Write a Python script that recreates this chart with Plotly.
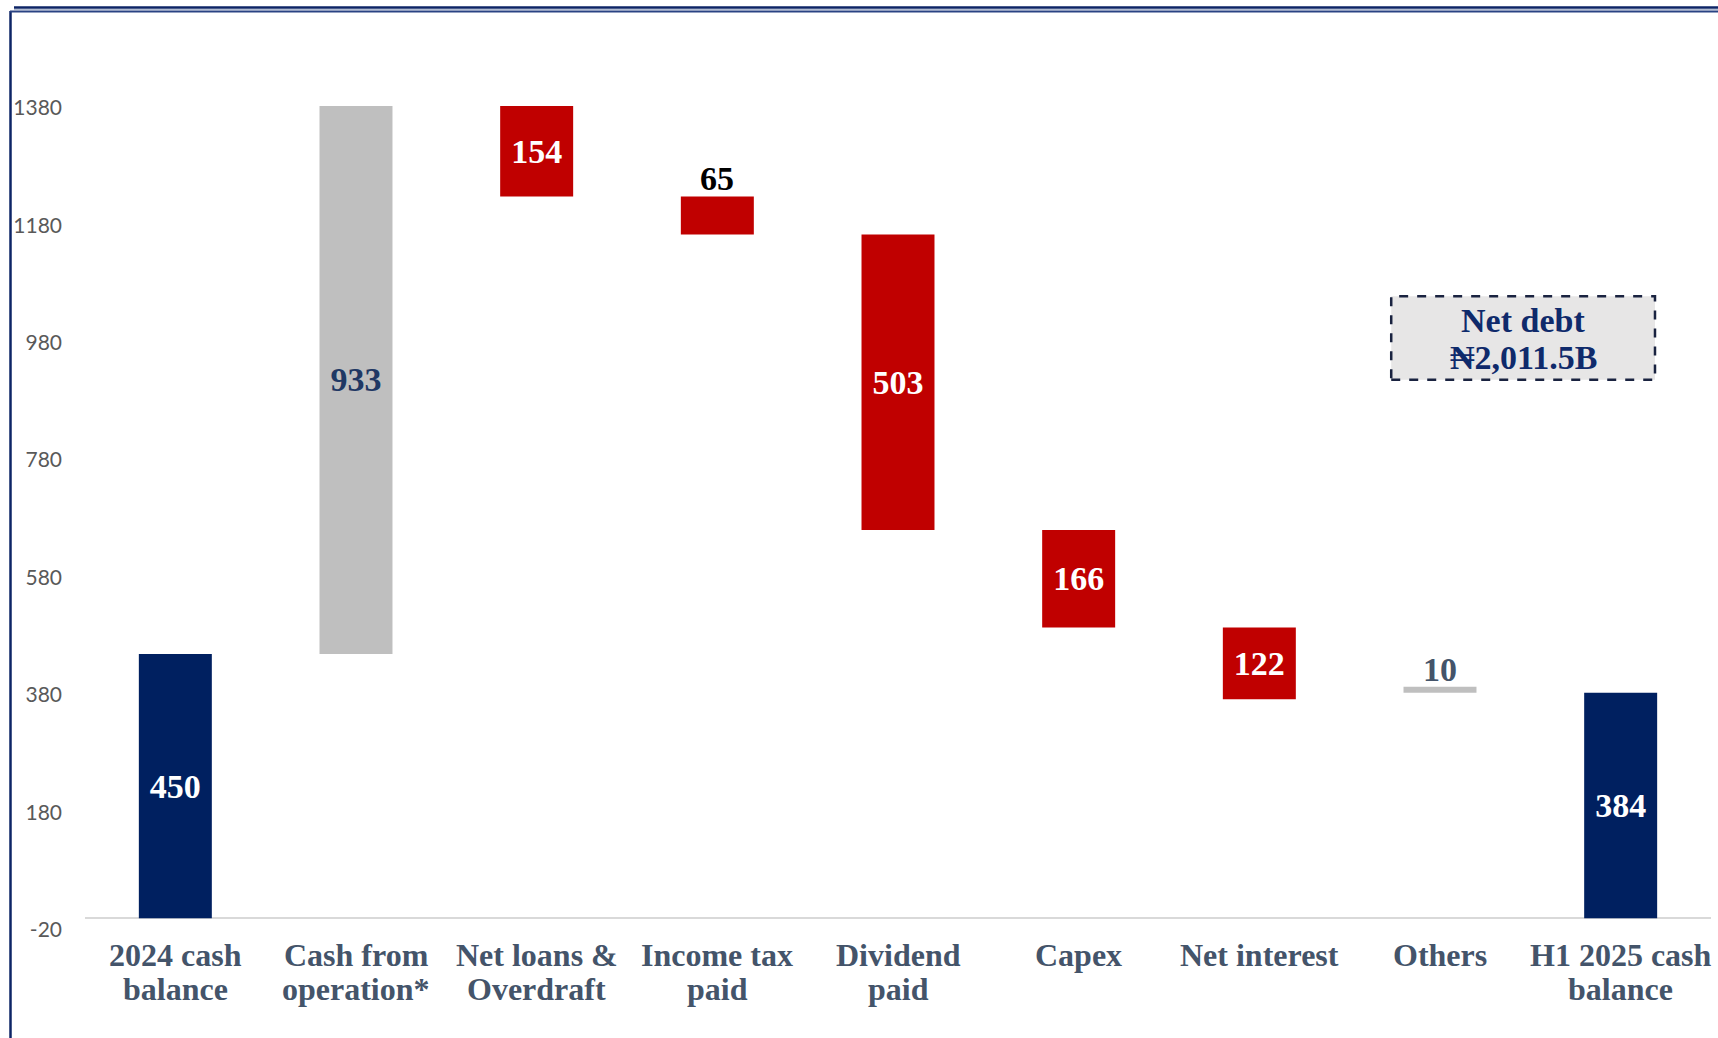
import plotly.graph_objects as go

# Cash bridge: 2024 closing cash to H1 2025 closing cash (₦ billions)
categories = [
    "2024 cash<br>balance",
    "Cash from<br>operation*",
    "Net loans &<br>Overdraft",
    "Income tax<br>paid",
    "Dividend<br>paid",
    "Capex",
    "Net interest",
    "Others",
    "H1 2025 cash<br>balance",
]
amounts = [450, 933, -154, -65, -503, -166, -122, 10, 384]
kinds = ["total", "flow", "flow", "flow", "flow", "flow", "flow", "flow", "total"]
value_labels = ["450", "933", "154", "65", "503", "166", "122", "10", "384"]
y_ticks = [-20, 180, 380, 580, 780, 980, 1180, 1380]
net_debt_lines = ["Net debt", "₦2,011.5B"]

NAVY = "#002060"
GREY = "#BFBFBF"
RED = "#C00000"
LABEL = "#44546A"

bar_colors = [NAVY, GREY, RED, RED, RED, RED, RED, GREY, NAVY]
text_colors = ["white", "#1F3864", "white", "black", "white", "white", "white", LABEL, "white"]
label_outside = [False, False, False, True, False, False, False, True, False]

# floating bar bases from the running balance
bases, heights = [], []
running = 0
for amt, kind in zip(amounts, kinds):
    if kind == "total":
        bases.append(0)
        heights.append(amt)
        running = amt
    else:
        bases.append(running if amt >= 0 else running + amt)
        heights.append(abs(amt))
        running += amt
# the small reconciling item is shown resting on the closing balance
bases[7] = amounts[-1]

W, H = 1718, 1038
ML, MR, MT, MB = 85, 7, 49, 108
PW, PH = W - ML - MR, H - MT - MB


def px_x(p):
    return (p - ML) / PW


def px_y(p):
    return (H - MB - p) / PH


x_pos = list(range(len(categories)))
value_font = dict(family="Liberation Serif", size=34, weight="bold")

fig = go.Figure()
fig.add_trace(go.Bar(
    x=x_pos,
    y=heights,
    base=bases,
    width=0.404,
    marker=dict(color=bar_colors, line=dict(width=0)),
    text=["" if out else lab for lab, out in zip(value_labels, label_outside)],
    textposition="inside",
    insidetextanchor="middle",
    textangle=0,
    constraintext="none",
    cliponaxis=False,
    textfont=dict(**value_font, color=text_colors),
    hoverinfo="skip",
))

# value labels sitting just above the short bars
for i, out in enumerate(label_outside):
    if out:
        fig.add_annotation(
            x=i, y=bases[i] + heights[i], xref="x", yref="y",
            text=value_labels[i], showarrow=False, yanchor="bottom", yshift=-3,
            font=dict(**value_font, color=text_colors[i]),
        )

# category labels, one line per annotation for tight line spacing
line_centres = [955, 989]
for i, cat in enumerate(categories):
    for j, line in enumerate(cat.split("<br>")):
        fig.add_annotation(
            x=i, xref="x", y=px_y(line_centres[j]), yref="paper",
            text=line, showarrow=False, yanchor="middle",
            font=dict(family="Liberation Serif", size=32, color=LABEL, weight="bold"),
        )

# Net debt call-out box
fig.add_shape(
    type="rect", xref="x", yref="y",
    x0=6.73, x1=8.19, y0=917, y1=1059,
    fillcolor="#E7E6E6",
    line=dict(color="#1A2340", width=2.5, dash="dash"),
    layer="above",
)
for line, yv in zip(net_debt_lines, [1018, 955]):
    fig.add_annotation(
        x=7.46, y=yv, xref="x", yref="y",
        text=line, showarrow=False, yanchor="middle",
        font=dict(family="Liberation Serif", size=34, color="#0F2A6B", weight="bold"),
    )

# frame: left rule and double top rule
frame = [
    dict(x0=px_x(10.5), x1=px_x(10.5), y0=px_y(11), y1=px_y(H + 2), color="#0D2466", width=2.5),
    dict(x0=px_x(14), x1=px_x(W + 2), y0=px_y(7.5), y1=px_y(7.5), color="#0D2466", width=2.5),
    dict(x0=px_x(14), x1=px_x(W + 2), y0=px_y(9.6), y1=px_y(9.6), color="#A8B4CC", width=1),
    dict(x0=px_x(10), x1=px_x(W + 2), y0=px_y(11.5), y1=px_y(11.5), color="#2A4383", width=2),
]
for f in frame:
    fig.add_shape(type="line", xref="paper", yref="paper",
                  x0=f["x0"], x1=f["x1"], y0=f["y0"], y1=f["y1"],
                  line=dict(color=f["color"], width=f["width"]), layer="above")

fig.update_layout(
    width=W, height=H,
    margin=dict(l=ML, r=MR, t=MT, b=MB, pad=0),
    paper_bgcolor="white",
    plot_bgcolor="white",
    showlegend=False,
    bargap=0.6,
    xaxis=dict(
        range=[-0.5, len(categories) - 0.5],
        tickmode="array",
        tickvals=x_pos,
        showticklabels=False,
        showgrid=False,
        zeroline=False,
        showline=False,
        ticks="",
    ),
    yaxis=dict(
        range=[-20, 1480],
        tickmode="array",
        tickvals=y_ticks,
        ticktext=[str(v) for v in y_ticks],
        showgrid=False,
        zeroline=True,
        zerolinecolor="#D9D9D9",
        zerolinewidth=2,
        showline=False,
        ticks="",
        ticklabelstandoff=22,
        tickfont=dict(family="Lato", size=21, color="#595959"),
    ),
)

fig.write_html("out.html")
